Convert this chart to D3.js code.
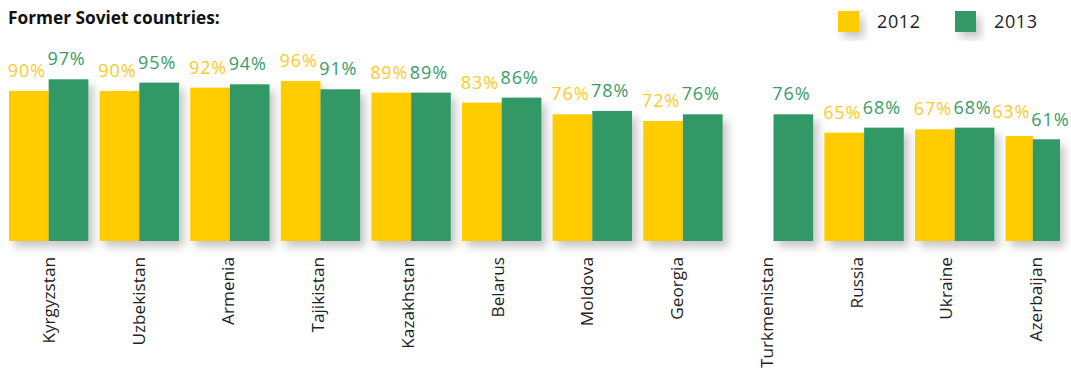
<!DOCTYPE html>
<html><head><meta charset="utf-8">
<script src="https://cdn.jsdelivr.net/npm/d3@7"></script>
<style>
html,body{margin:0;padding:0;background:#fff;}
svg{display:block;}
text{font-family:"Open Sans",sans-serif;}
</style></head>
<body>
<svg id="chart" width="1071" height="368"></svg>
<script>
const countries = ["Kyrgyzstan","Uzbekistan","Armenia","Tajikistan","Kazakhstan","Belarus","Moldova","Georgia","Turkmenistan","Russia","Ukraine","Azerbaijan"];
const years = ["2012","2013"];
const values2012 = [90,90,92,96,89,83,76,72,null,65,67,63];
const values2013 = [97,95,94,91,89,86,78,76,76,68,68,61];
const colors = ["#FFCC00","#339966"];
const labelColors = ["#FCCB2C","#3B9B6B"];

const svg = d3.select("#chart");
const defs = svg.append("defs");
const f = defs.append("filter").attr("id","shadow").attr("x","-20%").attr("y","-20%").attr("width","160%").attr("height","160%");
f.append("feDropShadow").attr("dx",5).attr("dy",6).attr("stdDeviation",4).attr("flood-color","#000").attr("flood-opacity",0.22);

const rightEdge = 1060;
const x0 = d3.scaleBand().domain(countries).range([9,1085]).paddingInner(0.124).paddingOuter(0);
const xl = d3.scalePoint().domain(countries).range([49,1036]);
const y = d3.scaleLinear().domain([0,100]).range([241,74.3]);

svg.append("text").attr("x",8).attr("y",24).attr("font-size",17.3).attr("font-weight","bold").attr("fill","#111").text("Former Soviet countries:");

// legend
const leg = svg.append("g");
const legX = [838,955];
years.forEach((yr,i)=>{
  leg.append("rect").attr("x",legX[i]).attr("y",11).attr("width",21).attr("height",21).attr("fill",colors[i]).attr("filter","url(#shadow)");
  leg.append("text").attr("x",legX[i]+39).attr("y",28).attr("font-size",18).attr("letter-spacing","0.6px").attr("fill","#222").text(yr);
});

const series = [values2012, values2013];
countries.forEach((c,ci)=>{
  const gx = x0(c);
  const bw = Math.min(x0.bandwidth(), rightEdge - gx) / 2;
  series.forEach((vals,si)=>{
    const v = vals[ci];
    if (v == null) return;
    const bx = gx + si*bw;
    svg.append("rect").attr("x",bx).attr("y",y(v)).attr("width",bw).attr("height",y(0)-y(v))
      .attr("fill",colors[si]).attr("filter","url(#shadow)");
  });
});
countries.forEach((c,ci)=>{
  const gx = x0(c);
  const bw = Math.min(x0.bandwidth(), rightEdge - gx) / 2;
  series.forEach((vals,si)=>{
    const v = vals[ci];
    if (v == null) return;
    let cx = gx + si*bw + bw/2 - 2;
    let dy = -14;
    if (bw < 35) { cx += (si===0 ? -6 : 6); dy = si===0 ? -18 : -13; }
    svg.append("text").attr("x",cx).attr("y",y(v)+dy).attr("text-anchor","middle")
      .attr("font-size",18).attr("letter-spacing","0.9px").attr("fill",labelColors[si]).text(v+"%");
  });
  svg.append("text").attr("transform",`translate(${xl(c)+6},257) rotate(-90)`).attr("text-anchor","end")
    .attr("font-size",17.2).attr("fill","#222").text(c);
});
</script>
</body></html>
